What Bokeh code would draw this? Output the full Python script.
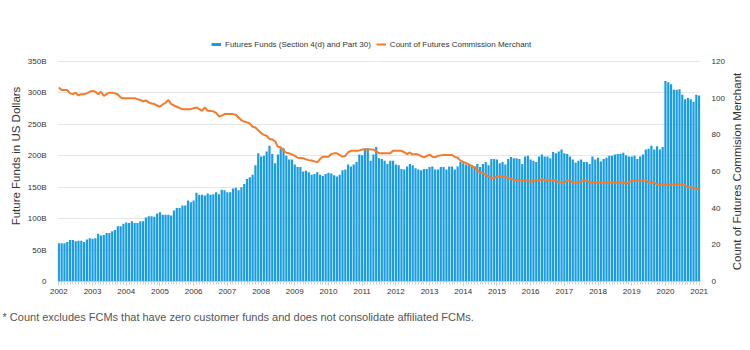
import math
import numpy as np
import pandas as pd
from bokeh.plotting import figure
from bokeh.layouts import row
from bokeh.core.properties import value
from bokeh.models import (Range1d, LinearAxis, FixedTicker, Legend, LegendItem,
                          ColumnDataSource, Title)
from bokeh.embed import file_html
from bokeh.resources import INLINE

# ---------------- data ----------------
months = pd.date_range("2002-01-01", "2021-01-01", freq="MS")   # 229 monthly points

# Futures funds, billions of US dollars (left axis)
funds = [
    61, 61, 61, 63, 66, 66, 64, 65, 65, 63, 67, 69,            # 2002
    68, 69, 76, 73, 74, 77, 77, 80, 82, 88, 88, 92,            # 2003
    94, 93, 96, 93, 93, 96, 96, 102, 104, 104, 103, 108,       # 2004
    110, 106, 106, 106, 105, 113, 117, 117, 121, 121, 129, 126,  # 2005
    129, 141, 138, 138, 137, 140, 138, 139, 142, 139, 146, 145,  # 2006
    142, 142, 148, 149, 145, 150, 155, 163, 166, 170, 185, 204,  # 2007
    199, 200, 207, 216, 203, 188, 202, 212, 212, 200, 194, 194,  # 2008
    186, 182, 182, 175, 176, 174, 170, 171, 174, 170, 168, 171,  # 2009
    173, 172, 169, 167, 170, 177, 178, 186, 183, 186, 190, 202,  # 2010
    201, 212, 212, 192, 202, 214, 196, 195, 192, 187, 192, 192,  # 2011
    186, 185, 179, 178, 183, 187, 185, 180, 178, 177, 179, 179,  # 2012
    182, 183, 178, 178, 182, 182, 178, 183, 183, 178, 183, 190,  # 2013
    188, 186, 187, 185, 183, 187, 182, 187, 190, 185, 195, 195,  # 2014
    194, 188, 190, 186, 195, 198, 196, 196, 195, 187, 199, 200,  # 2015
    194, 192, 190, 199, 202, 199, 199, 196, 206, 204, 207, 210,  # 2016
    204, 203, 199, 194, 189, 192, 194, 190, 190, 187, 199, 194,  # 2017
    197, 191, 195, 197, 200, 200, 202, 203, 203, 205, 201, 199,  # 2018
    199, 200, 195, 199, 202, 210, 211, 216, 210, 215, 210, 214,  # 2019
    319, 317, 314, 305, 305, 306, 297, 290, 292, 290, 286, 297,  # 2020
    296,                                                         # 2021
]

# Count of futures commission merchants (right axis)
fcm_count = [
    105.8, 104.4, 104.4, 104.4, 102.6, 102.2, 103, 101.5, 102.2, 102.2, 102.6, 103.5,  # 2002
    104, 103.5, 102.2, 103.5, 101.3, 102.2, 103, 103, 102.6, 102, 100.4, 100,          # 2003
    100, 100, 100, 100, 99.5, 99, 98.2, 98.8, 97.7, 97.1, 96.8, 96,                    # 2004
    95.3, 96.6, 97.5, 99, 96.8, 96, 95.3, 94.6, 94, 94, 94, 94,                        # 2005
    94.5, 95, 94, 93.1, 95, 93.1, 93, 92.8, 92, 90, 90.5, 91.3,                        # 2006
    91.3, 91.3, 91.3, 91, 89.5, 88, 87.2, 86.8, 86.2, 84.4, 84, 82.5,                  # 2007
    81, 80, 79.5, 77.7, 77.5, 76.5, 73.5, 73.2, 71.5, 70.2, 69.9, 69.3,                # 2008
    68.6, 67.5, 67.3, 67.2, 66.6, 66.2, 66, 65.5, 65, 66.8, 68.1, 68.1,                # 2009
    68.1, 69.5, 69.9, 69.9, 69, 68.1, 68.5, 70.5, 71.3, 71.3, 71.3, 71.5,              # 2010
    72, 72, 72, 72, 72, 71, 70, 70, 70, 70, 70, 71.3,                                  # 2011
    71.3, 71.3, 71.3, 70.5, 69.5, 70.4, 69.2, 69.5, 69.2, 68.4, 67.7, 68.5,            # 2012
    69.2, 68, 67.7, 68.6, 68.8, 69, 69, 69, 69, 68, 67.5, 65.9,                        # 2013
    65.2, 64.6, 63.9, 63, 62.3, 60.6, 59.5, 59.2, 58.2, 57.3, 56.4, 56.5,              # 2014
    57.2, 57.4, 57.3, 57.2, 56.5, 56.1, 55.4, 55.3, 55.1, 55.1, 55.1, 55.1,            # 2015
    54.2, 55.1, 55.1, 55.1, 56, 55.1, 55.1, 55.1, 55.1, 55.1, 54, 54,                  # 2016
    54, 55.1, 55.1, 54, 54, 54, 54.5, 55.1, 55.1, 54, 54, 54,                          # 2017
    54, 54, 54, 54, 54, 54, 54, 54, 54, 54, 53.3, 54,                                  # 2018
    55.1, 55.1, 55.1, 55.1, 55.1, 55.1, 54, 54, 54, 52.9, 52.9, 52.9,                  # 2019
    52.9, 52.9, 52.9, 52.9, 52.9, 52.9, 52.9, 52.5, 51.5, 51.3, 51.1, 50.6,            # 2020
    50.2,                                                                              # 2021
]

year_ticks = list(range(2002, 2022))
year_labels = [str(y) for y in year_ticks]
left_ticks = [0, 50, 100, 150, 200, 250, 300, 350]
left_labels = ["0", "50B", "100B", "150B", "200B", "250B", "300B", "350B"]
right_ticks = [0, 20, 40, 60, 80, 100, 120]
right_labels = ["0", "20", "40", "60", "80", "100", "120"]

series_names = ["Futures Funds (Section 4(d) and Part 30)",
                "Count of Futures Commission Merchant"]
left_title = "Future Funds in US Dollars"
right_title = "Count of Futures Commision Merchant"
footnote = "* Count excludes FCMs that have zero customer funds and does not consolidate affiliated FCMs."

n = len(months)
if len(funds) != n or len(fcm_count) != n:
    raise SystemExit(f"length mismatch: months={n} funds={len(funds)} count={len(fcm_count)}")

# ---------------- styling ----------------
BAR = "#189de4"
ORANGE = "#f67a28"
FONT = "Liberation Sans"
TXT = "#333333"

# frame spans 30..281 px; the 350B / 120 gridline sits at 61 px, leaving room for the legend
LEFT_MAX, RIGHT_MAX = 350.0, 120.0
head = 31.0 / 220.0
X0, X1 = 2001.96, 2021.04
xpos = [float(m.year + (m.month - 1) / 12.0) for m in months]
src = ColumnDataSource(dict(x=xpos, funds=funds, count=fcm_count))
yr = Range1d(0, LEFT_MAX * (1 + head))

p = figure(width=727, height=350,
           x_range=Range1d(X0, X1), y_range=yr,
           output_backend="svg", toolbar_location=None,
           min_border_left=57, min_border_right=20,
           min_border_top=30, min_border_bottom=69)
p.title.visible = False
p.outline_line_color = None
p.background_fill_color = "white"
p.border_fill_color = "white"
p.extra_y_ranges = {"count": Range1d(0, RIGHT_MAX * (1 + head))}

p.vbar(x="x", top="funds", width=0.78 / 12, source=src,
       fill_color=BAR, line_color=None)
ln = p.line(x="x", y="count", source=src, y_range_name="count",
            line_color=ORANGE, line_width=2)
dummy_bar = p.line(x=[1990.0, 1990.5], y=[-10.0, -10.0], line_color=BAR, line_width=3)

# grid
p.xgrid.visible = False
p.ygrid.grid_line_color = "#e6e6e6"

# x axis
xa = p.xaxis[0]
xa.ticker = FixedTicker(ticks=year_ticks, minor_ticks=xpos)
xa.major_label_overrides = {t: l for t, l in zip(year_ticks, year_labels)}
xa.major_label_text_font = FONT
xa.major_label_text_font_size = "8px"
xa.major_label_text_color = TXT
xa.axis_line_color = "#c8c8c8"
xa.major_tick_line_color = "#c0c0c0"
xa.minor_tick_line_color = "#d0d0d0"
xa.major_tick_out = 4
xa.major_tick_in = 0
xa.minor_tick_out = 3
xa.minor_tick_in = 0
xa.major_label_standoff = 3

# left axis
ya = p.yaxis[0]
ya.ticker = FixedTicker(ticks=left_ticks)
ya.major_label_overrides = {t: l for t, l in zip(left_ticks, left_labels)}
ya.axis_label = left_title

# right axis (its title is drawn in a narrow strip to the right, reading bottom-to-top)
ra = LinearAxis(y_range_name="count", ticker=FixedTicker(ticks=right_ticks))
ra.major_label_overrides = {t: l for t, l in zip(right_ticks, right_labels)}
p.add_layout(ra, "right")

for ax in (ya, ra):
    ax.axis_line_color = None
    ax.major_tick_line_color = None
    ax.minor_tick_line_color = None
    ax.major_label_text_font = FONT
    ax.major_label_text_font_size = "8px"
    ax.major_label_text_color = TXT
    ax.major_label_standoff = 5
ya.axis_label_text_font = FONT
ya.axis_label_text_font_size = "11.5px"
ya.axis_label_text_font_style = "normal"
ya.axis_label_text_color = TXT
ya.axis_label_standoff = 3

legend = Legend(items=[LegendItem(label=series_names[0], renderers=[dummy_bar]),
                       LegendItem(label=series_names[1], renderers=[ln])],
                orientation="horizontal", location=(154, 232),
                border_line_color=None, background_fill_alpha=0,
                label_text_font=FONT, label_text_font_size="8px",
                label_text_color=TXT, glyph_width=10, glyph_height=10,
                label_height=10, label_standoff=4, spacing=5,
                padding=2, margin=0)
p.add_layout(legend)

note = Title(text=footnote, align="left", offset=-55,
             text_font=FONT, text_font_size="11px", text_font_style="normal",
             text_color="#555555", standoff=24)
p.add_layout(note, "below")

# narrow strip holding the right-hand axis title
side = figure(width=23, height=350, x_range=Range1d(0, 1), y_range=yr,
              output_backend="svg", toolbar_location=None,
              x_axis_location=None, y_axis_location=None,
              min_border_left=0, min_border_right=0,
              min_border_top=30, min_border_bottom=69)
side.title.visible = False
side.grid.visible = False
side.outline_line_color = None
side.background_fill_color = "white"
side.border_fill_color = "white"
side.text(x=[0.4], y=[LEFT_MAX / 2.0], text=[right_title], angle=math.pi / 2,
          text_align="center", text_baseline="middle",
          text_font=value(FONT), text_font_size="11.5px", text_color=TXT)

open("out.html", "w").write(file_html(row(p, side, spacing=0), INLINE))
